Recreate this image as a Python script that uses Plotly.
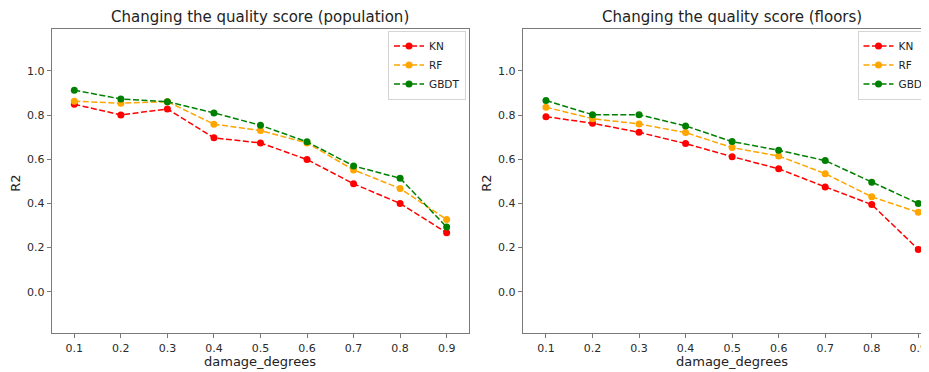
import plotly.graph_objects as go

damage_degrees = [0.1, 0.2, 0.3, 0.4, 0.5, 0.6, 0.7, 0.8, 0.9]
tick_labels = ["0.1", "0.2", "0.3", "0.4", "0.5", "0.6", "0.7", "0.8", "0.9"]

pop_kn = [0.849, 0.801, 0.828, 0.697, 0.674, 0.599, 0.489, 0.400, 0.267]
pop_rf = [0.863, 0.854, 0.861, 0.759, 0.730, 0.674, 0.552, 0.468, 0.327]
pop_gbdt = [0.913, 0.873, 0.861, 0.810, 0.754, 0.679, 0.570, 0.514, 0.293]

flo_kn = [0.793, 0.763, 0.722, 0.671, 0.612, 0.557, 0.475, 0.395, 0.192]
flo_rf = [0.836, 0.784, 0.760, 0.721, 0.653, 0.615, 0.535, 0.430, 0.360]
flo_gbdt = [0.866, 0.802, 0.802, 0.751, 0.680, 0.641, 0.594, 0.496, 0.400]

series_names = ["KN", "RF", "GBDT"]
series_colors = ["#ff0000", "#ffa500", "#008000"]

# the page body adds an 8px offset; the figure is sized to the visible area
OX, OY = 8, 8
W, H = 929 - OX, 372 - OY
FONT = "DejaVu Sans"


def fx(px):
    return (px - OX) / W


def fy(py):
    return (H - (py - OY)) / H


fig = go.Figure()

panels = [
    ([pop_kn, pop_rf, pop_gbdt], "x", "y", "legend"),
    ([flo_kn, flo_rf, flo_gbdt], "x2", "y2", "legend2"),
]
for data, xa, ya, lg in panels:
    for name, vals, col in zip(series_names, data, series_colors):
        fig.add_trace(go.Scatter(
            x=damage_degrees, y=vals, name=name, mode="lines+markers",
            xaxis=xa, yaxis=ya, legend=lg,
            line=dict(color=col, width=1.5, dash="6px,2.5px"),
            marker=dict(color=col, size=7),
        ))

axis_common = dict(
    showgrid=False, zeroline=False, showline=True, linecolor="#7a7a7a", linewidth=1.2,
    ticks="outside", ticklen=4, tickcolor="#7a7a7a", tickwidth=1,
    tickfont=dict(family=FONT, size=11, color="#2a2a2a"),
)
ytick_vals = [0.0, 0.2, 0.4, 0.6, 0.8, 1.0]
ytick_text = ["0.0", "0.2", "0.4", "0.6", "0.8", "1.0"]

y_dom = [fy(333.3), fy(29)]

legend_common = dict(xanchor="left", yanchor="top", bgcolor="white",
                     bordercolor="#d5d5d5", borderwidth=1,
                     font=dict(family=FONT, size=10.5, color="#222222"), tracegroupgap=0)

fig.update_layout(
    width=W, height=H,
    margin=dict(l=0, r=0, t=0, b=0, autoexpand=False),
    paper_bgcolor="white", plot_bgcolor="white",
    xaxis=dict(domain=[fx(51.7), fx(469)], range=[0.0514, 0.948],
               tickvals=damage_degrees, ticktext=tick_labels, mirror=True, anchor="y", **axis_common),
    yaxis=dict(domain=y_dom, range=[-0.188, 1.19], tickvals=ytick_vals, ticktext=ytick_text,
               mirror=True, anchor="x", **axis_common),
    xaxis2=dict(domain=[fx(522.7), 1.0], range=[0.05, 0.923],
                tickvals=damage_degrees, ticktext=tick_labels, mirror=True, anchor="y2", **axis_common),
    yaxis2=dict(domain=y_dom, range=[-0.188, 1.19], tickvals=ytick_vals, ticktext=ytick_text,
                mirror=False, anchor="x2", **axis_common),
    legend=dict(x=fx(388), y=fy(30.5), **legend_common),
    legend2=dict(x=fx(857.5), y=fy(30.5), **legend_common),
    showlegend=True,
)

annos = [
    ("Changing the quality score (population)", 260.3, 17, 15, 0),
    ("Changing the quality score (floors)", 731.6, 17, 15, 0),
    ("damage_degrees", 260.3, 361.7, 13, 0),
    ("damage_degrees", 731.6, 361.7, 13, 0),
    ("R2", 15.7, 183, 13, -90),
    ("R2", 486.7, 183, 13, -90),
]
for text, px, py, fs, ang in annos:
    fig.add_annotation(text=text, x=fx(px), y=fy(py), xref="paper", yref="paper",
                       xanchor="center", yanchor="middle", showarrow=False, textangle=ang,
                       font=dict(family=FONT, size=fs, color="#222222"))

fig.write_html("out.html")
